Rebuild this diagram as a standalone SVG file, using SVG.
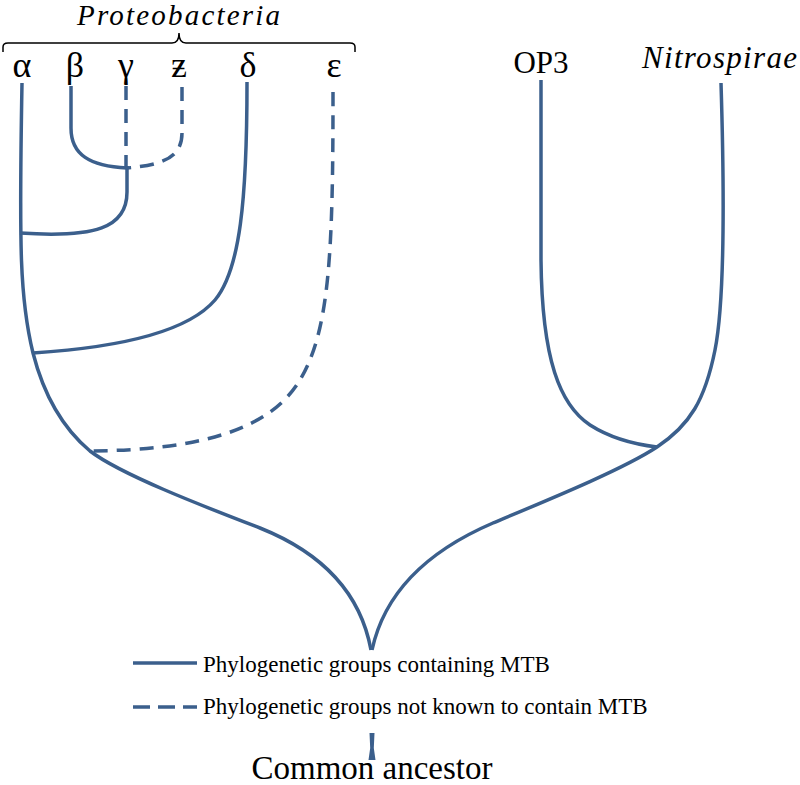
<svg xmlns="http://www.w3.org/2000/svg" width="800" height="785" viewBox="0 0 800 785">
<style>
.br{fill:none;stroke:#3b5f8c;stroke-width:3.5}
.dash{stroke-dasharray:14 9}
text{font-family:'Liberation Serif','Times New Roman','DejaVu Serif',serif;fill:#000}
.gr{font-size:36px;text-anchor:middle}
.brace{fill:none;stroke:#000;stroke-width:1.5}
</style>
<rect width="800" height="785" fill="#fff"/>
<g id="proteobacteria">
<path class="brace" d="M3,52 L3,47 Q3,43 8,43 L172,43 Q179,43 179,33 Q179,43 186,43 L350,43 Q355,43 355,47 L355,52"/>
<text x="178.5" y="25" font-size="29" font-style="italic" text-anchor="middle" textLength="203" lengthAdjust="spacing">Proteobacteria</text>
</g>
<g id="alpha"><text class="gr" x="22" y="77">α</text></g>
<g id="beta"><text class="gr" x="75" y="77">β</text></g>
<g id="gamma"><text class="gr" x="126" y="77">γ</text></g>
<g id="zeta"><text class="gr" x="179" y="77">ƶ</text></g>
<g id="delta"><text class="gr" x="248" y="77">δ</text></g>
<g id="epsilon"><text class="gr" x="334" y="77">ε</text></g>
<g id="op3"><text x="541" y="73" font-size="31" text-anchor="middle">OP3</text></g>
<g id="nitrospirae"><text x="719.5" y="68" font-size="31" font-style="italic" text-anchor="middle" textLength="155" lengthAdjust="spacing">Nitrospirae</text></g>
<g id="common-ancestor">
<text x="372" y="779" font-size="33" text-anchor="middle">Common ancestor</text>
</g>
<g id="legend">
<line class="br" x1="133" y1="663" x2="197" y2="663"/>
<text x="203" y="672" font-size="23">Phylogenetic groups containing MTB</text>
<line class="br" x1="133" y1="707" x2="197" y2="707" stroke-dasharray="17 8"/>
<text x="203" y="714" font-size="23">Phylogenetic groups not known to contain MTB</text>
</g>
<g id="connectors">
<path class="br" d="M22,83 C19,250 20,300 33,353 C45,400 65,430 90,451 C120,474 200,505 260,528 C320,552 360,590 371,650"/>
<path class="br" d="M721,83 C724,180 725,300 715,350 C705,400 690,425 657,447 C625,468 560,495 493,523 C430,550 385,590 372,650"/>
<path class="br" d="M541,80 L541,260 C542,360 560,405 590,425 C615,441 640,445 657,447"/>
<path class="br" d="M71,86 L71,128 C71,155 90,166 127,168"/>
<path class="br dash" d="M126,86 L126,168"/>
<path class="br dash" d="M182,87 L182,133 C182,158 162,165 127,168"/>
<path class="br" d="M127,166 L127,192 C127,228 95,238 20,233"/>
<path class="br" d="M247,82 C247,200 240,270 215,300 C185,335 110,348 33,353"/>
<path class="br dash" d="M333,92 C333,250 330,330 300,380 C270,430 200,450 90,451"/>
<path d="M369.5,733 L374.5,733 L373.8,748 L375.5,760 L368.5,760 L370.2,748 Z" fill="#3b5f8c"/>
</g>
</svg>
